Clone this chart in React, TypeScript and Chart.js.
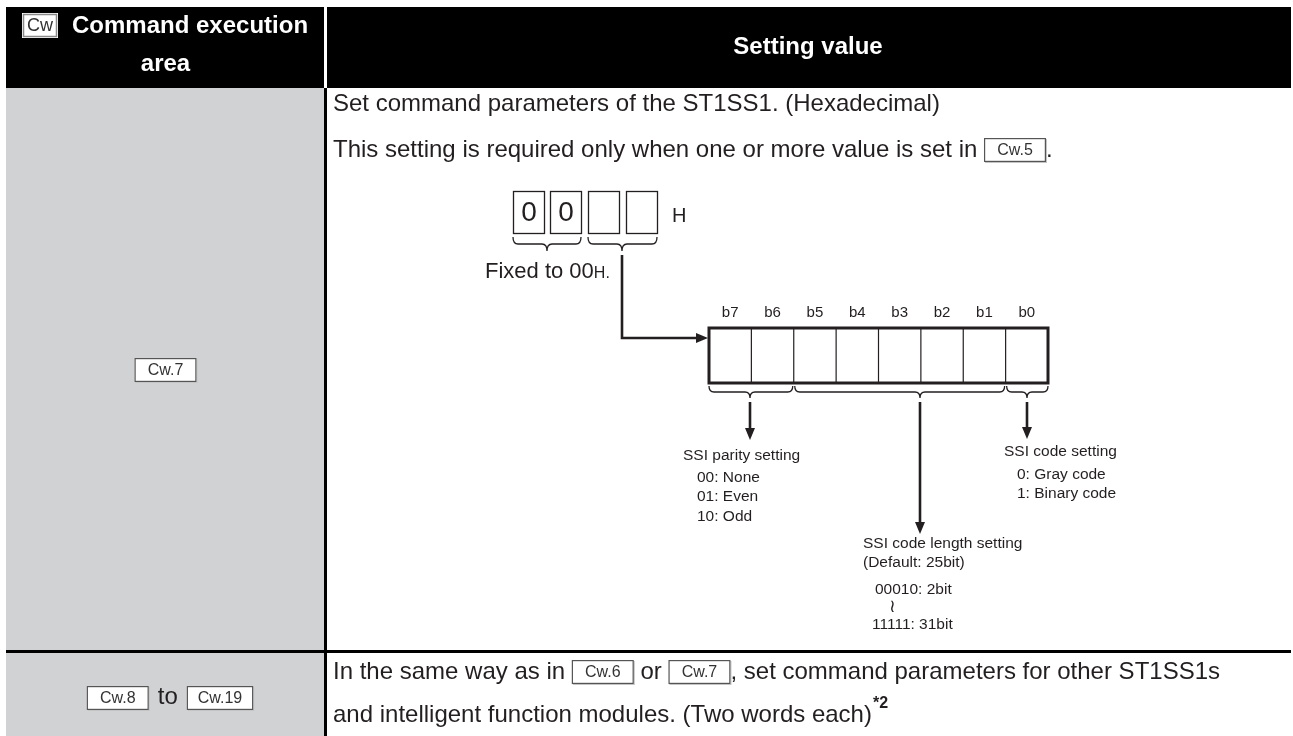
import React, { useEffect, useRef } from "react";
import { Chart, registerables } from "chart.js";
Chart.register(...registerables);

const W = 1293;
const H = 736;
const FONT = '"Liberation Sans", Arial, Helvetica, sans-serif';

// ---- content data ----
const headerIcon = "Cw";
const headerLeft = ["Command execution", "area"];
const headerRight = "Setting value";
const row1Key = "Cw.7";
const row1Line1 = ["Set command parameters of the ST1SS1. (Hexadecimal)"];
const row1Line2 = ["This setting is required only when one or more value is set in ", "Cw.5", "."];
const hexDigits = ["0", "0", "", ""];
const hexSuffix = "H";
const fixedNote = ["Fixed to 00", "H."];
const bitLabels = ["b7", "b6", "b5", "b4", "b3", "b2", "b1", "b0"];
const bitGroups = [
  [0, 1],
  [2, 6],
  [7, 7],
];
const parityLines = ["SSI parity setting", "00: None", "01: Even", "10: Odd"];
const lengthLines = ["SSI code length setting", "(Default: 25bit)", "00010: 2bit", "≀", "11111: 31bit"];
const codeLines = ["SSI code setting", "0: Gray code", "1: Binary code"];
const row2Key = ["Cw.8", "to", "Cw.19"];
const row2Line1 = ["In the same way as in ", "Cw.6", " or ", "Cw.7", ", set command parameters for other ST1SS1s"];
const row2Line2 = ["and intelligent function modules. (Two words each)", "*2"];

type Ctx = CanvasRenderingContext2D;

const tablePlugin = {
  id: "tableDiagram",
  afterDraw(chart: any) {
    const ctx: Ctx = chart.ctx;
    const xs = chart.scales.x;
    const ys = chart.scales.y;
    const X = (v: number) => xs.getPixelForValue(v);
    const Y = (v: number) => ys.getPixelForValue(v);

    const rect = (x1: number, y1: number, x2: number, y2: number, color: string) => {
      ctx.fillStyle = color;
      ctx.fillRect(X(x1), Y(y1), X(x2) - X(x1), Y(y2) - Y(y1));
    };
    const line = (pts: number[][], width: number, color = "#231f20") => {
      ctx.beginPath();
      ctx.moveTo(X(pts[0][0]), Y(pts[0][1]));
      for (let i = 1; i < pts.length; i++) ctx.lineTo(X(pts[i][0]), Y(pts[i][1]));
      ctx.lineWidth = width;
      ctx.strokeStyle = color;
      ctx.lineCap = "butt";
      ctx.lineJoin = "miter";
      ctx.stroke();
    };
    const text = (s: string, x: number, y: number, size: number, opts: any = {}) => {
      ctx.font = `${opts.bold ? "bold " : ""}${size}px ${FONT}`;
      ctx.fillStyle = opts.color || "#231f20";
      ctx.textAlign = opts.align || "left";
      ctx.textBaseline = "middle";
      ctx.fillText(s, X(x), Y(y));
      return ctx.measureText(s).width;
    };
    const measure = (s: string, size: number, bold = false) => {
      ctx.font = `${bold ? "bold " : ""}${size}px ${FONT}`;
      return ctx.measureText(s).width;
    };
    const REF_SIZE = 16;
    const refWidth = (s: string) => Math.max(62, measure(s, REF_SIZE) + 22);
    const refBox = (s: string, x: number, y: number) => {
      const w = refWidth(s);
      const h = 24;
      const x1 = X(x);
      const y1 = Y(y) - h / 2;
      ctx.fillStyle = "#c4c4c4";
      ctx.fillRect(x1 + 1, y1 + 1, w, h);
      ctx.fillStyle = "#ffffff";
      ctx.fillRect(x1, y1, w, h);
      ctx.strokeStyle = "#555555";
      ctx.lineWidth = 1.2;
      ctx.strokeRect(x1 + 0.6, y1 + 0.6, w - 1.2, h - 1.2);
      ctx.font = `${REF_SIZE}px ${FONT}`;
      ctx.fillStyle = "#333333";
      ctx.textAlign = "center";
      ctx.textBaseline = "middle";
      ctx.fillText(s, x1 + w / 2, Y(y) + 1);
      return w;
    };
    // rich line: even index = text, odd index = reference box
    const richLine = (parts: string[], x: number, y: number, size: number) => {
      let cx = x;
      parts.forEach((p, i) => {
        if (i % 2 === 1) cx += refBox(p, cx, y);
        else cx += text(p, cx, y, size);
      });
    };

    const brace = (x1: number, x2: number, tip: number, yTop: number, yBot: number) => {
      const ym = (yTop + yBot) / 2;
      const r = 5;
      ctx.beginPath();
      ctx.moveTo(X(x1), Y(yTop));
      ctx.quadraticCurveTo(X(x1), Y(ym), X(x1 + r), Y(ym));
      ctx.lineTo(X(tip - r), Y(ym));
      ctx.quadraticCurveTo(X(tip), Y(ym), X(tip), Y(yBot));
      ctx.quadraticCurveTo(X(tip), Y(ym), X(tip + r), Y(ym));
      ctx.lineTo(X(x2 - r), Y(ym));
      ctx.quadraticCurveTo(X(x2), Y(ym), X(x2), Y(yTop));
      ctx.lineWidth = 1.3;
      ctx.strokeStyle = "#231f20";
      ctx.stroke();
    };
    const arrowHead = (tx: number, ty: number, dir: "down" | "right") => {
      ctx.beginPath();
      if (dir === "down") {
        ctx.moveTo(X(tx), Y(ty));
        ctx.lineTo(X(tx - 5), Y(ty - 12));
        ctx.lineTo(X(tx + 5), Y(ty - 12));
      } else {
        ctx.moveTo(X(tx), Y(ty));
        ctx.lineTo(X(tx - 12), Y(ty - 5));
        ctx.lineTo(X(tx - 12), Y(ty + 5));
      }
      ctx.closePath();
      ctx.fillStyle = "#231f20";
      ctx.fill();
    };

    // ---- table frame ----
    const L = 6, R = 1291, T = 7, HB = 88, DIV = 325, RB = 651, B = 736;
    const leftC = (L + DIV) / 2;
    const rightC = (DIV + R) / 2;
    rect(L, T, R, HB, "#000000");
    rect(DIV - 1, T, DIV + 2, HB, "#ffffff");
    rect(L, HB, DIV - 1, B, "#d1d2d4");
    rect(DIV - 1, HB, DIV + 2, B, "#000000");
    rect(L, RB - 1, R, RB + 2, "#000000");

    // ---- header ----
    const HS = 24;
    const iconX = 22, iconW = 36;
    ctx.fillStyle = "#ffffff";
    ctx.fillRect(X(iconX), Y(13), iconW, 25);
    ctx.strokeStyle = "#8a8a8a";
    ctx.lineWidth = 1.5;
    ctx.strokeRect(X(iconX) + 1.5, Y(13) + 1.5, iconW - 3, 22);
    text(headerIcon, iconX + iconW / 2, 26, 18, { align: "center", color: "#333333" });
    text(headerLeft[0], 72, 26, HS, { bold: true, color: "#ffffff" });
    text(headerLeft[1], leftC, 64, HS, { bold: true, color: "#ffffff", align: "center" });
    text(headerRight, rightC, 47, HS, { bold: true, color: "#ffffff", align: "center" });

    // ---- row 1 ----
    const TX = 333;
    const BS = 24;
    richLine(row1Line1, TX, 104, BS);
    richLine(row1Line2, TX, 150, BS);
    refBox(row1Key, leftC - refWidth(row1Key) / 2, 370);

    // hex digits
    const dx = [513, 550, 588, 626];
    hexDigits.forEach((d, i) => {
      ctx.lineWidth = 1.3;
      ctx.strokeStyle = "#231f20";
      ctx.strokeRect(X(dx[i]) + 0.5, Y(191) + 0.5, X(dx[i] + 31) - X(dx[i]), Y(233) - Y(191));
      if (d) text(d, dx[i] + 16, 213, 28, { align: "center" });
    });
    text(hexSuffix, 672, 216, 20);
    brace(513, 581, 547, 237, 251);
    brace(588, 657, 622, 237, 251);
    const fw = text(fixedNote[0], 485, 272, 22);
    text(fixedNote[1], 485 + fw, 274, 16);
    // connector arrow
    line([[622, 255], [622, 338], [698, 338]], 2.6);
    arrowHead(708, 338, "right");

    // bit register
    const BX0 = 709, BX1 = 1048, BY0 = 328, BY1 = 383;
    const cw = (BX1 - BX0) / bitLabels.length;
    bitLabels.forEach((b, i) => {
      text(b, BX0 + cw * (i + 0.5), 313, 15, { align: "center" });
      if (i > 0) line([[BX0 + cw * i, BY0], [BX0 + cw * i, BY1]], 1.2);
    });
    ctx.lineWidth = 3;
    ctx.strokeStyle = "#231f20";
    ctx.strokeRect(X(BX0), Y(BY0), X(BX1) - X(BX0), Y(BY1) - Y(BY0));

    // braces under bits + arrows
    const tips = [750, 920, 1027];
    const ends = [440, 534, 439];
    bitGroups.forEach((g, k) => {
      const a = BX0 + cw * g[0] + (k === 0 ? 0 : 1);
      const b = BX0 + cw * (g[1] + 1) - (k === bitGroups.length - 1 ? 0 : 1);
      brace(a, b, tips[k], 386, 398);
      line([[tips[k], 402], [tips[k], ends[k] - 10]], 2.6);
      arrowHead(tips[k], ends[k], "down");
    });

    // descriptions
    const DS = 15.5;
    text(parityLines[0], 683, 456, DS);
    text(parityLines[1], 697, 478, DS);
    text(parityLines[2], 697, 497, DS);
    text(parityLines[3], 697, 517, DS);

    text(codeLines[0], 1004, 452, DS);
    text(codeLines[1], 1017, 475, DS);
    text(codeLines[2], 1017, 494, DS);

    text(lengthLines[0], 863, 544, DS);
    text(lengthLines[1], 863, 563, DS);
    text(lengthLines[2], 875, 590, DS);
    text(lengthLines[3], 889, 607, 18);
    text(lengthLines[4], 872, 625, DS);

    // ---- row 2 ----
    const gap = 9;
    const kw = refWidth(row2Key[0]) + gap + measure(row2Key[1], BS) + gap + refWidth(row2Key[2]);
    let kx = 170 - kw / 2;
    kx += refBox(row2Key[0], kx, 698) + gap;
    kx += text(row2Key[1], kx, 697, BS) + gap;
    refBox(row2Key[2], kx, 698);
    richLine(row2Line1, TX, 672, BS);
    const w2 = text(row2Line2[0], TX, 715, BS);
    text(row2Line2[1], TX + w2 + 1, 704, 16, { bold: true });
  },
};

export default function App() {
  const ref = useRef<HTMLCanvasElement | null>(null);
  useEffect(() => {
    if (!ref.current) return;
    const chart = new Chart(ref.current, {
      type: "scatter",
      data: { datasets: [{ data: [], showLine: false }] },
      options: {
        animation: false,
        responsive: false,
        maintainAspectRatio: false,
        events: [],
        layout: { padding: 0 },
        plugins: { legend: { display: false }, tooltip: { enabled: false } },
        scales: {
          x: { type: "linear", min: 0, max: W, display: false },
          y: { type: "linear", min: 0, max: H, reverse: true, display: false },
        },
      },
      plugins: [tablePlugin],
    });
    return () => chart.destroy();
  }, []);
  return (
    <div style={{ position: "fixed", left: 0, top: 0, width: W, height: H, background: "#fff" }}>
      <canvas ref={ref} width={W} height={H} style={{ display: "block", width: W, height: H }} />
    </div>
  );
}
